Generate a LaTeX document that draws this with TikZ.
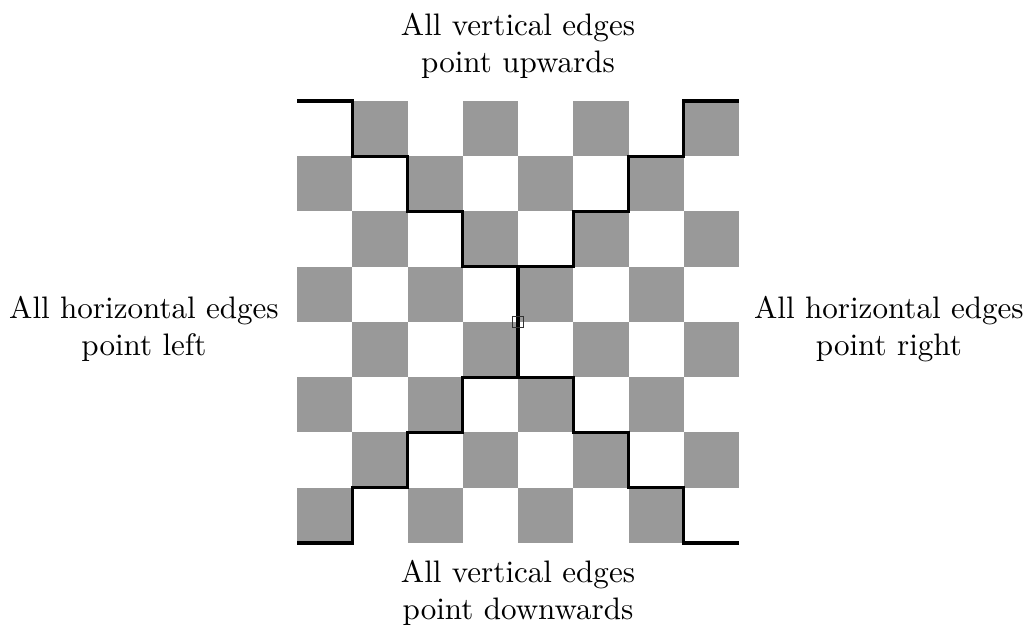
\documentclass[tikz,border=0pt]{standalone}
\begin{document}
\begin{tikzpicture}[x=0.625cm, y=0.625cm]
    \useasboundingbox (-5.376,-1.593) rectangle (13.195,9.828);

    % 1. Checkerboard 8x8
    \foreach \i in {0,...,7}
        \foreach \j in {0,...,7}
        {
            \pgfmathparse{int(mod(\i+\j,2))}
            \ifnum\pgfmathresult=0
                \fill[black!40] (\i,\j) rectangle ++(1,1);
            \fi
        }

    % 2. Staircase boundaries
    \draw[line width=1pt] (0,8) -- (1,8) -- (1,7) -- (2,7) -- (2,6) -- (3,6) -- (3,5)
        -- (5,5) -- (5,6) -- (6,6) -- (6,7) -- (7,7) -- (7,8) -- (8,8);
    \draw[line width=1pt] (4,5) -- (4,3);
    \draw[line width=1pt] (0,0) -- (1,0) -- (1,1) -- (2,1) -- (2,2) -- (3,2) -- (3,3)
        -- (5,3) -- (5,2) -- (6,2) -- (6,1) -- (7,1) -- (7,0) -- (8,0);

    % Small square at the centre
    \draw[black!80, thin] (3.9,3.9) rectangle (4.1,4.1);

    % 3. Labels
    \node[align=center] (up) at (4,9.0) {All vertical edges\\point upwards};
    \node[align=center] (down) at (4,-0.90) {All vertical edges\\point downwards};
    \node[align=center] (left) at (-2.77,3.87) {All horizontal edges\\point left};
    \node[align=center] (right) at (10.714,3.87) {All horizontal edges\\point right};
\end{tikzpicture}
\end{document}
